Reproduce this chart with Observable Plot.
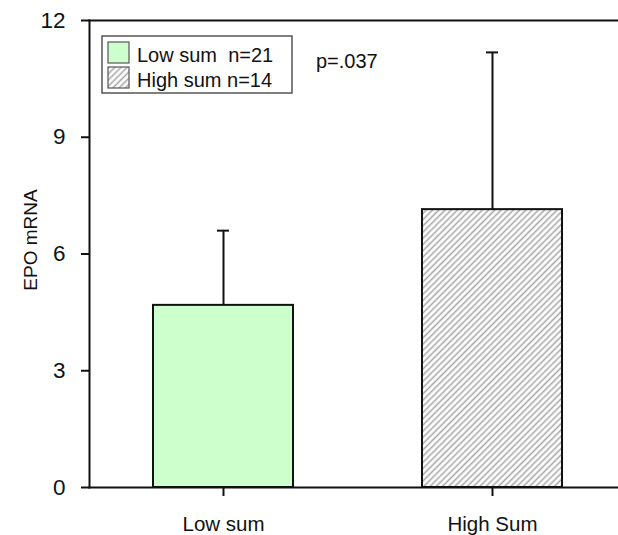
<!DOCTYPE html>
<html>
<head>
<meta charset="utf-8">
<script src="https://cdn.jsdelivr.net/npm/d3@7"></script>
<script src="https://cdn.jsdelivr.net/npm/@observablehq/plot@0.6"></script>
<style>
  html, body { margin: 0; padding: 0; background: #fff; }
  svg { display: block; }
</style>
</head>
<body>
<script>
// ---- data ----
const groups = ["Low sum", "High Sum"];
const means = [4.68, 7.14];
const errTops = [6.60, 11.18];
const yTicks = [0, 3, 6, 9, 12];
const yLabel = "EPO mRNA";
const legendLabels = ["Low sum  n=21", "High sum n=14"];
const pLabel = "p=.037";

const data = groups.map((g, i) => ({group: g, mean: means[i], top: errTops[i]}));
const FONT = "'Liberation Sans', Arial, sans-serif";

const chart = Plot.plot({
  width: 618,
  height: 535,
  marginTop: 20,
  marginBottom: 48,
  marginLeft: 89,
  marginRight: 0,
  style: {fontFamily: FONT, color: "#111", background: "#fff"},
  x: {domain: groups, range: [89, 625], paddingInner: 0.48, paddingOuter: 0.2326},
  y: {domain: [0, 12]},
  color: {type: "ordinal", domain: groups, range: ["#ccffcc", "url(#hatch)"]},
  marks: [
    Plot.barY(data, {x: "group", y: "mean", fill: "group", stroke: "#111", strokeWidth: 2}),
    Plot.ruleX(data, {x: "group", y1: "mean", y2: "top", stroke: "#111", strokeWidth: 2}),
    Plot.tickY(data, {x: "group", y: "top", insetLeft: 64, insetRight: 64, stroke: "#111", strokeWidth: 2}),
    Plot.frame({anchor: "left", stroke: "#111", strokeWidth: 2}),
    Plot.frame({anchor: "top", stroke: "#111", strokeWidth: 2}),
    Plot.frame({anchor: "bottom", stroke: "#111", strokeWidth: 2}),
    Plot.axisY({ticks: yTicks, tickSize: 8, tickPadding: 16, fontSize: 22.5, strokeWidth: 2, label: null}),
    Plot.axisX({tickSize: 9, tickPadding: 20, fontSize: 20.5, strokeWidth: 2, label: null})
  ]
});

// hatch pattern
const svg = d3.select(chart);
const defs = svg.insert("defs", ":first-child");
const pat = defs.append("pattern")
  .attr("id", "hatch")
  .attr("patternUnits", "userSpaceOnUse")
  .attr("width", 4.4).attr("height", 4.4)
  .attr("patternTransform", "rotate(45)");
pat.append("rect").attr("width", 4.4).attr("height", 4.4).attr("fill", "#fff");
pat.append("line").attr("x1", 1.2).attr("y1", 0).attr("x2", 1.2).attr("y2", 4.4)
  .attr("stroke", "#aaa").attr("stroke-width", 1.6);

// y-axis title
svg.append("text")
  .attr("transform", "translate(37,240) rotate(-90)")
  .attr("text-anchor", "middle")
  .attr("font-family", FONT).attr("font-size", 19).attr("fill", "#111")
  .text(yLabel);

// legend
const lg = svg.append("g").attr("font-family", FONT).attr("font-size", 20)
  .attr("text-anchor", "start").attr("fill", "#111");
lg.append("rect").attr("x", 102).attr("y", 36).attr("width", 190).attr("height", 57)
  .attr("fill", "#fff").attr("stroke", "#555").attr("stroke-width", 1.5);
const swFills = ["#ccffcc", "url(#hatch)"];
legendLabels.forEach((t, i) => {
  lg.append("rect").attr("x", 108).attr("y", 42 + i * 25).attr("width", 21).attr("height", 21)
    .attr("fill", swFills[i]).attr("stroke", "#555").attr("stroke-width", 1.2);
  lg.append("text").attr("x", 137).attr("y", 62 + i * 25).style("white-space", "pre").text(t);
});
lg.append("text").attr("x", 316).attr("y", 68).text(pLabel);

document.body.appendChild(chart);
</script>
</body>
</html>
